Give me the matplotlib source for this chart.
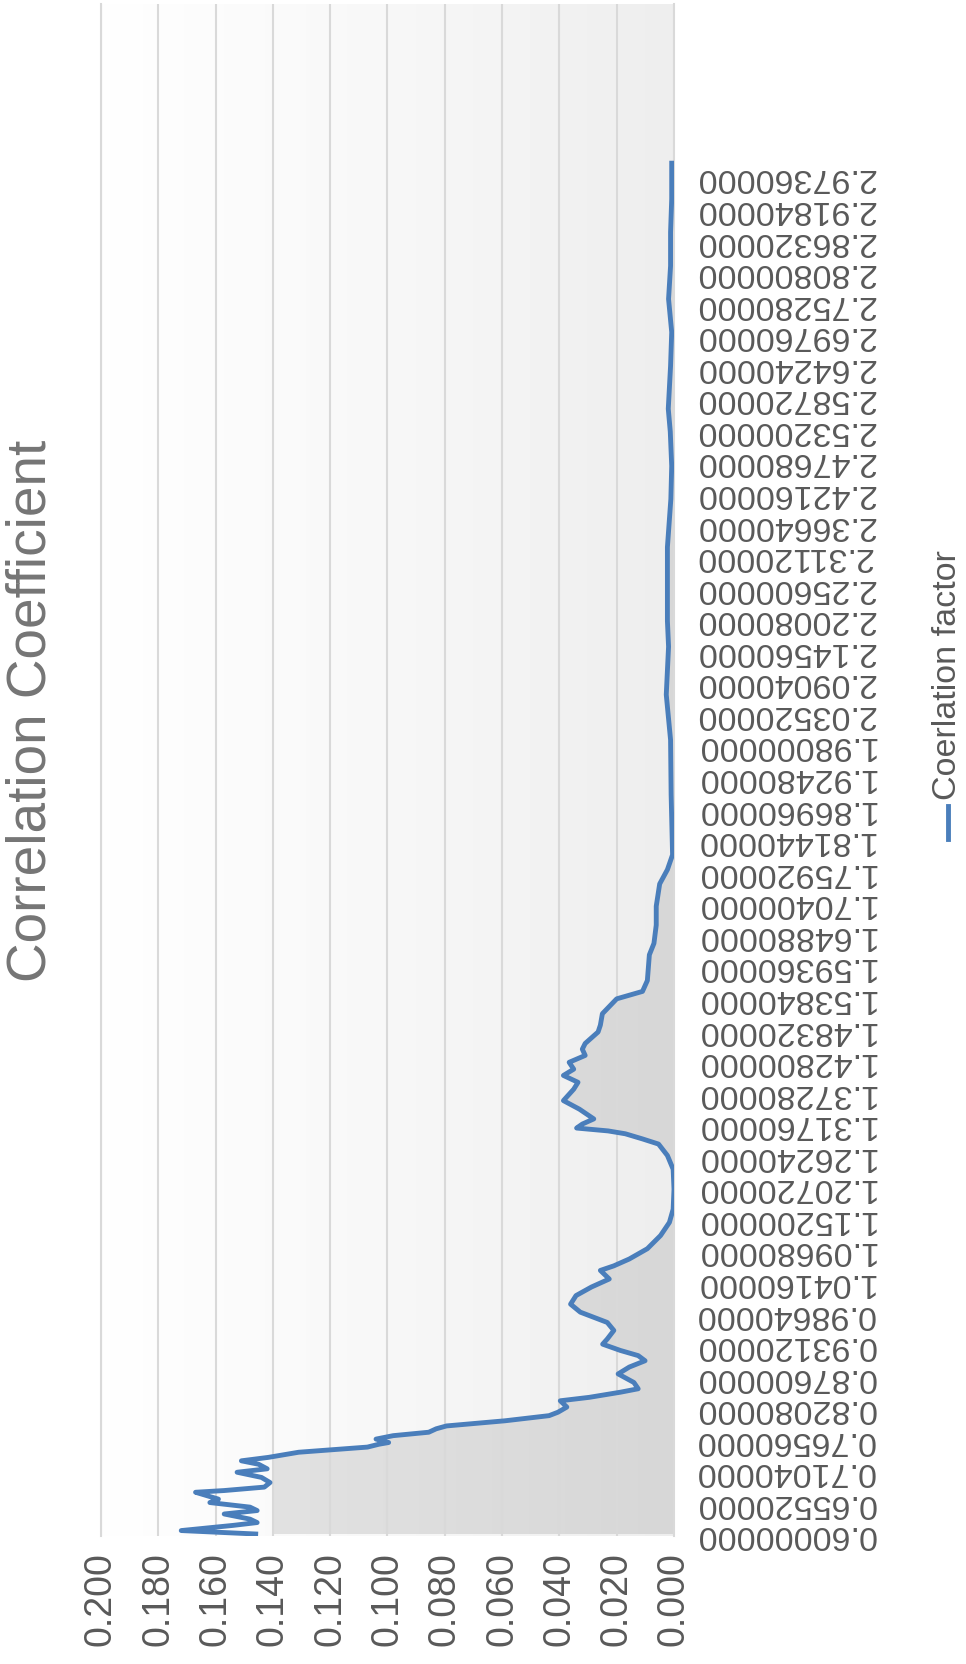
import numpy as np
import matplotlib.pyplot as plt
from matplotlib.colors import LinearSegmentedColormap
from matplotlib.lines import Line2D

plt.rcParams['font.family'] = ['Liberation Sans', 'DejaVu Sans']

# category (factor) positions, bottom to top
factor = [0.600, 0.603, 0.606, 0.615, 0.620, 0.626, 0.635, 0.641, 0.647, 0.655,
          0.661, 0.667, 0.673, 0.676, 0.682, 0.690, 0.699, 0.708, 0.714, 0.722,
          0.728, 0.734, 0.743, 0.752, 0.757, 0.760, 0.766, 0.772, 0.778, 0.784,
          0.789, 0.798, 0.807, 0.813, 0.822, 0.833, 0.839, 0.848, 0.854, 0.865,
          0.880, 0.892, 0.903, 0.912, 0.921, 0.932, 0.941, 0.956, 0.970, 0.988,
          1.002, 1.017, 1.032, 1.046, 1.061, 1.069, 1.081, 1.099, 1.122, 1.145,
          1.168, 1.203, 1.238, 1.262, 1.282, 1.291, 1.300, 1.305, 1.310, 1.317,
          1.326, 1.343, 1.358, 1.378, 1.390, 1.402, 1.413, 1.425, 1.437, 1.448,
          1.458, 1.478, 1.490, 1.510, 1.536, 1.549, 1.568, 1.613, 1.633, 1.665,
          1.698, 1.737, 1.762, 1.788, 1.893, 1.989, 2.068, 2.152, 2.197, 2.255,
          2.326, 2.410, 2.468, 2.528, 2.568, 2.643, 2.702, 2.760, 2.818, 2.877,
          2.935, 2.9976]

# correlation coefficient at each factor
coef = [0.146, 0.159, 0.172, 0.154, 0.1455, 0.148, 0.157, 0.1455, 0.148, 0.162,
        0.159, 0.163, 0.167, 0.157, 0.143, 0.141, 0.144, 0.1525, 0.142, 0.145,
        0.151, 0.1416, 0.131, 0.107, 0.103, 0.0996, 0.104, 0.098, 0.0856, 0.083,
        0.0794, 0.059, 0.0436, 0.0405, 0.0374, 0.0397, 0.0296, 0.0187, 0.0125, 0.014,
        0.0195, 0.0156, 0.0101, 0.0125, 0.0187, 0.0249, 0.0233, 0.021, 0.0233, 0.0327,
        0.0361, 0.0342, 0.0288, 0.0226, 0.0257, 0.021, 0.0156, 0.0093, 0.0047, 0.0016,
        0.0003, 0.0, 0.0003, 0.0023, 0.0054, 0.011, 0.017, 0.023, 0.034, 0.032,
        0.028, 0.033, 0.0386, 0.035, 0.0335, 0.0386, 0.035, 0.0366, 0.031, 0.032,
        0.031, 0.0265, 0.0257, 0.025, 0.020, 0.011, 0.0093, 0.0086, 0.007, 0.0062,
        0.0062, 0.005, 0.0023, 0.0005, 0.001, 0.0012, 0.0027, 0.0019, 0.0023, 0.0023,
        0.0023, 0.0011, 0.0008, 0.0013, 0.002, 0.0012, 0.0008, 0.0019, 0.0012, 0.0012,
        0.0008, 0.0008]

factor_ticks = [0.6, 0.6552, 0.7104, 0.7656, 0.8208, 0.876, 0.9312, 0.9864, 1.0416,
                1.0968, 1.152, 1.2072, 1.2624, 1.3176, 1.3728, 1.428, 1.4832, 1.5384,
                1.5936, 1.6488, 1.704, 1.7592, 1.8144, 1.8696, 1.9248, 1.98, 2.0352,
                2.0904, 2.1456, 2.2008, 2.256, 2.3112, 2.3664, 2.4216, 2.4768, 2.532,
                2.5872, 2.6424, 2.6976, 2.7528, 2.808, 2.8632, 2.9184, 2.9736]
value_ticks = [0.0, 0.02, 0.04, 0.06, 0.08, 0.1, 0.12, 0.14, 0.16, 0.18, 0.2]

line_color = '#4a7ebb'
y_lo, y_hi = 0.5965, 3.276

fig = plt.figure(figsize=(9.66, 16.65), dpi=100)
ax = fig.add_axes([101 / 966, 128 / 1665, 573 / 966, 1532 / 1665])

# plot area gradient
bg = LinearSegmentedColormap.from_list('bg', ['#eeeeee', '#f8f8f8', '#ffffff'])
ax.imshow(np.linspace(0, 1, 256).reshape(1, -1), extent=[0, 0.2, y_lo, y_hi],
          cmap=bg, aspect='auto', zorder=0.1)

# grey area under the curve (stops at 0.14)
fc = np.array(factor)
cv = np.array(coef)
area = ax.fill_betweenx(fc, 0, np.minimum(cv, 0.14), facecolor='none', edgecolor='none')
shade = LinearSegmentedColormap.from_list('shade', ['#d7d7d7', '#e2e2e2'])
im = ax.imshow(np.linspace(0, 1, 256).reshape(1, -1), extent=[0, 0.14, y_lo, y_hi],
               cmap=shade, aspect='auto', zorder=0.3)
im.set_clip_path(area.get_paths()[0], transform=ax.transData)

ax.plot(cv, fc, color=line_color, lw=3.5, solid_joinstyle='round', zorder=3)

ax.set_xlim(0.2, 0)
ax.set_ylim(y_lo, y_hi)

ax.set_xticks(value_ticks)
ax.set_xticklabels([f'{v:.3f}' for v in value_ticks], rotation=90,
                   fontsize=27, color='#595959')
ax.tick_params(axis='x', length=0, pad=11)
ax.grid(axis='x', color='#d9d9d9', lw=1.5)
ax.set_axisbelow(True)

ax.yaxis.tick_right()
ax.set_yticks(factor_ticks)
ax.set_yticklabels([f'{v:.8f}' for v in factor_ticks], rotation=180,
                   fontsize=24.5, color='#595959', va='center')
ax.tick_params(axis='y', length=0, pad=15)

for s in ['top', 'bottom']:
    ax.spines[s].set_visible(False)
for s in ['left', 'right']:
    ax.spines[s].set_color('#d9d9d9')
    ax.spines[s].set_linewidth(1.5)

fig.text(32 / 966, 1 - 711 / 1665, 'Correlation Coefficient', rotation=90,
         ha='center', va='center', fontsize=39.5, color='#757575')

# legend, drawn by hand because it is turned on its side
fig.add_artist(Line2D([948 / 966, 948 / 966], [1 - 840 / 1665, 1 - 807 / 1665],
                      color=line_color, lw=3.5))
fig.text(948 / 966, 1 - 800 / 1665, 'Coerlation factor', rotation=90,
         ha='center', va='bottom', fontsize=24.5, color='#595959')

fig.savefig('out.png', dpi=100)
